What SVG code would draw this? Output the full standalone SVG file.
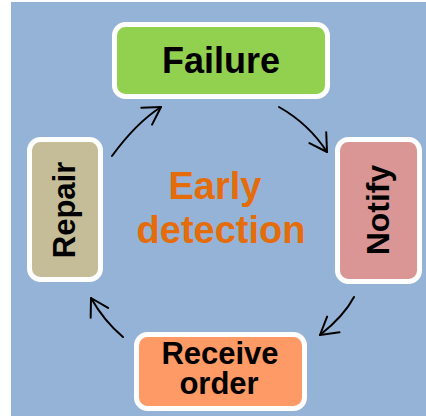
<svg xmlns="http://www.w3.org/2000/svg" width="426" height="416" viewBox="0 0 426 416">
<style>
.box{stroke:#fff;stroke-width:5}
.lbl{font-family:"Liberation Sans",Arial,sans-serif;font-weight:bold;fill:#000;text-anchor:middle}
.ctr{font-family:"Liberation Sans",Arial,sans-serif;font-weight:bold;fill:#e46c0a;text-anchor:middle;font-size:38px}
.arr{fill:none;stroke:#000;stroke-width:2;stroke-linecap:round}
</style>
<defs>
<marker id="ah" markerUnits="userSpaceOnUse" markerWidth="24" markerHeight="24" viewBox="-20 -12 22 24" refX="0" refY="0" orient="auto">
<path d="M-17,-10 L0,0 L-17,10" fill="none" stroke="#000" stroke-width="2" stroke-linecap="round" stroke-linejoin="round"/>
</marker>
</defs>
<rect x="11" y="2" width="415" height="414" fill="#95b3d7"/>
<g id="center-text">
<text class="ctr" x="215" y="199">Early</text>
<text class="ctr" x="221" y="243">detection</text>
</g>
<g id="connectors">
<path class="arr" d="M279,107 Q309,124 327,152" marker-end="url(#ah)"/>
<path class="arr" d="M354,297 Q344,316 320,335" marker-end="url(#ah)"/>
<path class="arr" d="M123,337 Q104,321 91,298" marker-end="url(#ah)"/>
<path class="arr" d="M112,156 Q136,123 161,107" marker-end="url(#ah)"/>
</g>
<g id="failure">
<rect class="box" x="114.5" y="24.5" width="213" height="72" rx="11" fill="#92d050"/>
<text class="lbl" x="221" y="73" font-size="36">Failure</text>
</g>
<g id="notify">
<rect class="box" x="337.5" y="139.5" width="82" height="142" rx="11" fill="#d99694"/>
<text class="lbl" font-size="32" transform="translate(389,210) rotate(-90)" x="0" y="0">Notify</text>
</g>
<g id="receive-order">
<rect class="box" x="136.5" y="334.5" width="168" height="74" rx="11" fill="#fd9a65"/>
<text class="lbl" x="220" y="364" font-size="31">Receive</text>
<text class="lbl" x="219" y="394" font-size="31">order</text>
</g>
<g id="repair">
<rect class="box" x="29.5" y="139.5" width="71" height="140" rx="11" fill="#c4bd97"/>
<text class="lbl" font-size="31" transform="translate(75,210) rotate(-90)" x="0" y="0">Repair</text>
</g>
</svg>
